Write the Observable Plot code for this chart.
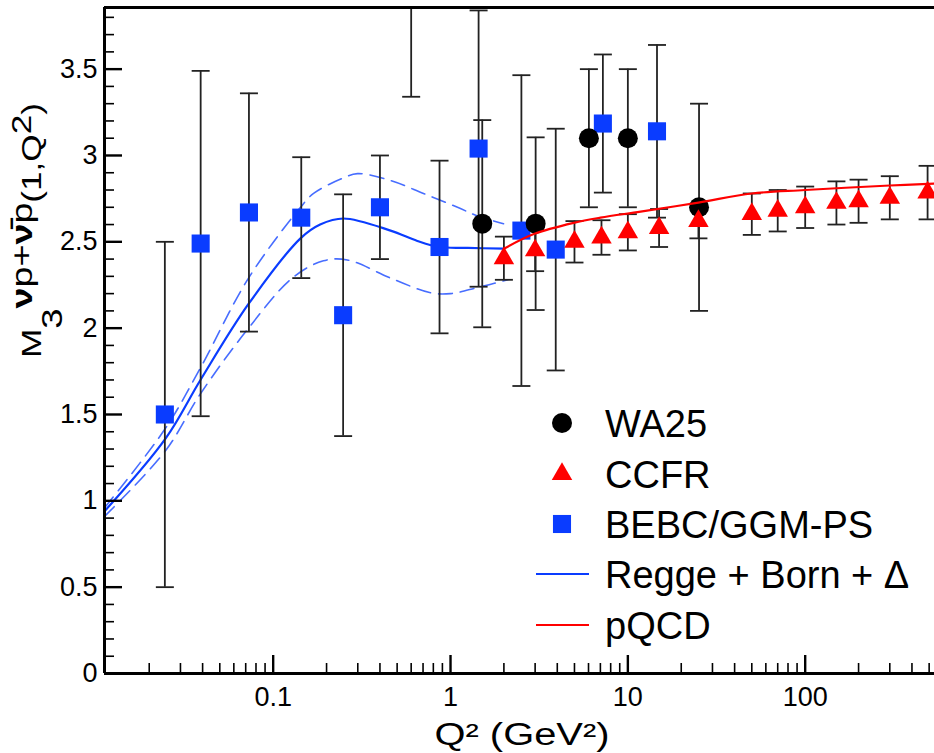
<!DOCTYPE html>
<html><head><meta charset="utf-8">
<script src="https://cdn.jsdelivr.net/npm/d3@7"></script>
<script src="https://cdn.jsdelivr.net/npm/@observablehq/plot@0.6"></script>
<style>
html,body{margin:0;padding:0;background:#fff;overflow:hidden;}
#chart{position:relative;width:934px;height:753px;}
</style></head><body><div id="chart"></div>
<script>
// ---- data ----
const wa25Q2  = [1.51, 3.02, 6.03, 10.0, 25.2];
const wa25M3  = [2.605, 2.605, 3.10, 3.10, 2.70];
const wa25Err = [0.6, 0.5, 0.4, 0.4, 0.6];

const ccfrQ2  = [2.0, 3.0, 5.0, 7.1, 10, 15, 25, 50, 70, 100, 150, 200, 300, 490];
const ccfrM3  = [2.405, 2.45, 2.50, 2.525, 2.555, 2.58, 2.62, 2.66, 2.68, 2.70, 2.725, 2.735, 2.755, 2.785];
const ccfrErr = [0.125, 0.12, 0.12, 0.10, 0.105, 0.11, 0.10, 0.12, 0.12, 0.12, 0.125, 0.125, 0.125, 0.155];

const bebcQ2  = [0.0245, 0.039, 0.073, 0.144, 0.248, 0.40, 0.60, 0.867, 1.44, 2.51, 3.92, 7.23, 14.6];
const bebcM3  = [1.50, 2.49, 2.67, 2.64, 2.075, 2.70, 4.30, 2.47, 3.04, 2.565, 2.455, 3.185, 3.14];
const bebcErr = [1.0, 1.0, 0.69, 0.35, 0.70, 0.30, 0.96, 0.50, 0.80, 0.90, 0.70, 0.40, 0.50];

const reggeQ2 = [0.0112, 0.0247, 0.0389, 0.0726, 0.1426, 0.184, 0.249, 0.459, 0.65, 0.866, 1.25, 1.99];
const reggeM3 = [0.94, 1.36, 1.70, 2.14, 2.52, 2.60, 2.635, 2.565, 2.505, 2.47, 2.465, 2.46];
const reggeUpQ2 = [0.0112, 0.0247, 0.0389, 0.0726, 0.1426, 0.169, 0.249, 0.299, 0.459, 0.704, 1.095, 1.42, 1.99];
const reggeUpM3 = [0.96, 1.42, 1.77, 2.29, 2.70, 2.78, 2.87, 2.895, 2.855, 2.78, 2.70, 2.65, 2.605];
const reggeLoQ2 = [0.0112, 0.0247, 0.0389, 0.0726, 0.128, 0.192, 0.262, 0.459, 0.771, 1.0, 1.42, 2.10];
const reggeLoM3 = [0.91, 1.29, 1.62, 2.00, 2.29, 2.39, 2.395, 2.29, 2.205, 2.20, 2.235, 2.28];

const pqcdQ2 = [2.0, 2.95, 4.95, 7.0, 11.8, 25, 50, 100, 300, 537];
const pqcdM3 = [2.46, 2.545, 2.61, 2.64, 2.675, 2.727, 2.78, 2.80, 2.826, 2.837];

const xMajor = [0.1, 1, 10, 100];
const yMajor = [0, 0.5, 1, 1.5, 2, 2.5, 3, 3.5];
const legendLabels = ["WA25", "CCFR", "BEBC/GGM-PS", "Regge + Born + \u0394", "pQCD"];

// ---- build tables ----
const pts = (q, m, e) => q.map((x, i) => ({x, y: m[i], e: e ? e[i] : 0}));
const wa25 = pts(wa25Q2, wa25M3, wa25Err);
const ccfr = pts(ccfrQ2, ccfrM3, ccfrErr);
const bebc = pts(bebcQ2, bebcM3, bebcErr);
const regge = pts(reggeQ2, reggeM3);
const reggeUp = pts(reggeUpQ2, reggeUpM3);
const reggeLo = pts(reggeLoQ2, reggeLoM3);
const pqcd = pts(pqcdQ2, pqcdM3);
const allErr = [...bebc, ...wa25, ...ccfr];

const xDomain = [0.01119, 536];
const yDomain = [0, 3.857];
const xMinor = [];
for (let d = -2; d <= 2; d++) for (let k = 2; k <= 9; k++) {
  const v = k * Math.pow(10, d);
  if (v > xDomain[0] && v < xDomain[1]) xMinor.push(+v.toPrecision(3));
}
const yMinor = d3.range(0, 3.85, 0.1).map(v => +v.toFixed(1)).filter(v => Math.abs(v * 2 - Math.round(v * 2)) > 1e-6);

const W = 934, H = 753, mL = 104, mR = 0, mT = 7, mB = 80;
const innerW = W - mL - mR, innerH = H - mT - mB;
const BLUE = "#0a3cff", RED = "#ff0000", BAR = "#222";
const capSymbol = {draw(ctx, size) { const w = Math.sqrt(size / Math.PI); ctx.moveTo(-w, 0); ctx.lineTo(w, 0); }};
const font = "'Liberation Sans', Arial, Helvetica, sans-serif";

const chart = Plot.plot({
  width: W, height: H,
  marginLeft: mL, marginRight: mR, marginTop: mT, marginBottom: mB,
  style: {fontFamily: font, background: "white", color: "black", overflow: "visible"},
  x: {type: "log", domain: xDomain},
  y: {domain: yDomain},
  marks: [
    // theory curves
    Plot.line(reggeUp, {x: "x", y: "y", stroke: BLUE, strokeOpacity: 0.75, strokeWidth: 1.6, strokeDasharray: "14,8", curve: "catmull-rom", clip: true}),
    Plot.line(reggeLo, {x: "x", y: "y", stroke: BLUE, strokeOpacity: 0.75, strokeWidth: 1.6, strokeDasharray: "14,8", curve: "catmull-rom", clip: true}),
    Plot.line(regge, {x: "x", y: "y", stroke: BLUE, strokeWidth: 2.2, curve: "catmull-rom", clip: true}),
    // error bars
    Plot.ruleX(allErr, {x: "x", y1: d => d.y - d.e, y2: d => d.y + d.e, stroke: BAR, strokeWidth: 1.8, clip: true}),
    Plot.dot(allErr, {x: "x", y: d => d.y + d.e, symbol: capSymbol, r: 9, stroke: BAR, strokeWidth: 1.8, fill: "none", clip: true}),
    Plot.dot(allErr, {x: "x", y: d => d.y - d.e, symbol: capSymbol, r: 9, stroke: BAR, strokeWidth: 1.8, fill: "none", clip: true}),
    // markers
    Plot.dot(bebc, {x: "x", y: "y", symbol: "square", r: 10.2, fill: BLUE, stroke: "none", clip: true}),
    Plot.dot(wa25, {x: "x", y: "y", symbol: "circle", r: 10, fill: "black", stroke: "none", clip: true}),
    Plot.dot(ccfr, {x: "x", y: "y", symbol: "triangle", r: 7.6, fill: RED, stroke: "none", clip: true}),
    Plot.line(pqcd, {x: "x", y: "y", stroke: RED, strokeWidth: 2.2, curve: "catmull-rom", clip: true}),
    // frame & ticks
    Plot.tickX(xMinor, {x: d => d, insetTop: innerH - 10, stroke: "black", strokeWidth: 1.6}),
    Plot.tickX(xMajor, {x: d => d, insetTop: innerH - 18, stroke: "black", strokeWidth: 2.4}),
    Plot.tickY(yMinor, {y: d => d, insetRight: innerW - 10, stroke: "black", strokeWidth: 1.6}),
    Plot.tickY(yMajor, {y: d => d, insetRight: innerW - 18, stroke: "black", strokeWidth: 2.4}),
    Plot.ruleY([yDomain[0]], {stroke: "black", strokeWidth: 3}),
    Plot.ruleY([yDomain[1]], {stroke: "black", strokeWidth: 3}),
    Plot.ruleX([xDomain[0]], {stroke: "black", strokeWidth: 3}),
    Plot.axisX({ticks: xMajor, tickSize: 0, tickPadding: 13, fontSize: 27, tickFormat: d => String(d), label: null, fill: "black"}),
    Plot.axisY({ticks: yMajor, tickSize: 0, tickPadding: 7, fontSize: 27, tickFormat: d => String(d), label: null, fill: "black"})
  ]
});
document.getElementById("chart").appendChild(chart);

// ---- axis titles and legend ----
const svg = d3.select(chart);
svg.append("text")
  .attr("x", 522).attr("y", 745).attr("text-anchor", "middle")
  .attr("font-family", font).attr("font-size", 31).attr("fill", "black")
  .attr("textLength", 175).attr("lengthAdjust", "spacingAndGlyphs")
  .text("Q\u00b2 (GeV\u00b2)");

const yl = svg.append("text")
  .attr("transform", "translate(41,358) rotate(-90)")
  .attr("text-anchor", "start")
  .attr("font-family", font).attr("font-size", 28).attr("fill", "black")
  .attr("textLength", 255).attr("lengthAdjust", "spacingAndGlyphs");
yl.append("tspan").text("M");
yl.append("tspan").attr("dy", 21).attr("font-size", 29).text("3");
const sup = yl.append("tspan").attr("dy", -30).attr("font-size", 30);
sup.append("tspan").attr("font-weight", "bold").text("\u03bd");
sup.append("tspan").text("p+");
sup.append("tspan").attr("font-weight", "bold").text("\u03bd\u0304");
sup.append("tspan").text("p");
yl.append("tspan").attr("dy", 9).text("(1,Q");
yl.append("tspan").attr("dy", -10).attr("font-size", 28).text("2");
yl.append("tspan").attr("dy", 10).text(")");

const lg = svg.append("g").attr("font-family", font).attr("font-size", 38).attr("fill", "black").attr("text-anchor", "start");
const mx = 562, tx = 605, rowY = [423, 474, 524, 574, 625];
lg.append("circle").attr("cx", mx).attr("cy", rowY[0]).attr("r", 10).attr("fill", "black");
lg.append("path").attr("transform", `translate(${mx},${rowY[1]})`).attr("d", d3.symbol(d3.symbolTriangle, Math.PI * 7.6 * 7.6)()).attr("fill", RED);
lg.append("path").attr("transform", `translate(${mx},${rowY[2]})`).attr("d", d3.symbol(d3.symbolSquare, Math.PI * 10.2 * 10.2)()).attr("fill", BLUE);
lg.append("line").attr("x1", 536).attr("x2", 589).attr("y1", rowY[3]).attr("y2", rowY[3]).attr("stroke", BLUE).attr("stroke-width", 2.2);
lg.append("line").attr("x1", 536).attr("x2", 589).attr("y1", rowY[4]).attr("y2", rowY[4]).attr("stroke", RED).attr("stroke-width", 2.2);
legendLabels.forEach((t, i) => {
  lg.append("text").attr("x", tx).attr("y", rowY[i] + 14).attr("text-anchor", "start").text(t);
});
</script></body></html>
